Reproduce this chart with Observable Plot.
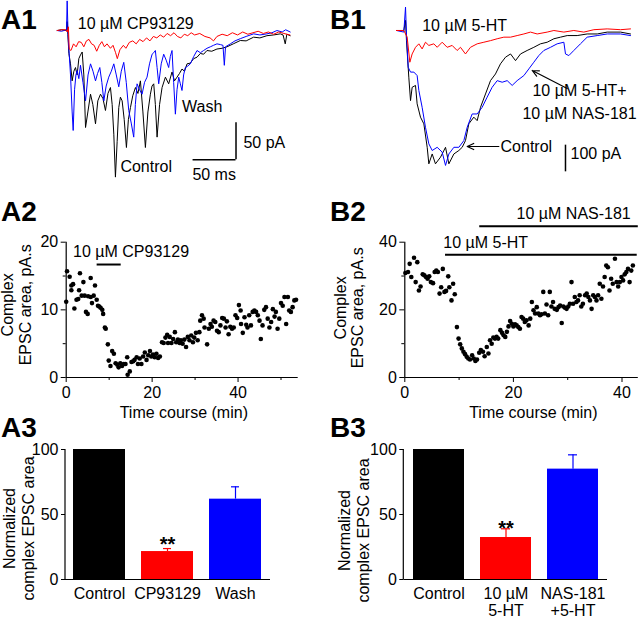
<!DOCTYPE html>
<html><head><meta charset="utf-8">
<script src="https://cdn.jsdelivr.net/npm/d3@7"></script>
<script src="https://cdn.jsdelivr.net/npm/@observablehq/plot@0.6"></script>
<style>
body{margin:0;background:#fff;}
#fig{position:relative;width:640px;height:620px;font-family:"Liberation Sans",Arial,sans-serif;overflow:hidden;background:#fff;}
.panel{position:absolute;}
.panel svg{overflow:visible;background:transparent;}
.lab{position:absolute;font-weight:bold;font-size:28px;line-height:1;color:#000;}
</style></head><body><div id="fig"></div>
<script>
// ---------- A1 traces: [time ms, current pA] ----------
const a1Control = [[0,0],[5,1],[10.9,0],[11.6,12],[12.4,-5],[13.6,-31],[15.5,-45],[17.4,-68],[19.4,-55],[21.3,-50],[23.2,-60],[25.2,-38],[27.1,-33],[29.1,-29],[31,-60],[33,-131],[35.7,-110],[38.8,-86],[41.5,-100],[44.6,-126],[47.3,-95],[50.4,-86],[53.3,-92],[56.2,-108],[59.1,-85],[62,-77],[64,-100],[65.9,-140],[67.8,-198],[69.8,-150],[71.7,-104],[73.6,-90],[75.6,-95],[78,-120],[80.6,-158],[82.9,-120],[85.3,-104],[88,-88],[91.1,-77],[94,-85],[96.9,-68],[99.8,-110],[102.7,-158],[105.6,-110],[108.5,-86],[110.4,-75],[112.4,-72],[114.3,-100],[116.3,-144],[119.2,-100],[122.1,-77],[126,-63],[129.8,-72],[133.7,-56],[136.6,-68],[139.5,-63],[142.4,-58],[145.3,-52],[148.2,-55],[151.2,-45],[155,-44],[158.9,-38],[162.8,-36],[166.7,-31],[170.5,-32],[174.4,-27],[180,-28],[186,-25],[192,-24],[197.7,-22],[205,-18],[213.2,-13.5],[220,-14],[228.7,-9],[236,-10],[244.2,-7],[252,-6],[259.7,-4.5],[263,-6],[265.5,-18],[267.4,-5],[271.3,-7]];
const a1Wash = [[0,0],[5,-1],[10.9,1],[11.6,40],[12.8,-10],[15.5,-60],[17.4,-110],[18.6,-135],[20.2,-80],[21.8,-60],[23.3,-54],[25.2,-65],[27.1,-47],[30,-70],[33,-95],[35.9,-60],[38.8,-45],[41.7,-55],[44.6,-68],[47,-58],[49.6,-50],[52,-70],[54.3,-95],[57,-75],[60,-63],[63,-55],[65.9,-45],[68.8,-60],[71.7,-76],[74.6,-55],[77.5,-43],[80.4,-70],[83.3,-108],[86.2,-125],[89.1,-144],[91,-100],[93,-72],[95.9,-80],[98.8,-86],[101.7,-70],[104.6,-63],[107.5,-45],[110.5,-32],[112.4,-30],[114.3,-27],[116.3,-50],[118.2,-72],[121.1,-45],[124,-32],[126.9,-40],[129.8,-50],[131.7,-35],[133.7,-27],[135.6,-70],[137.6,-113],[139.5,-80],[141.5,-63],[143.4,-72],[145.3,-81],[147.2,-60],[149.2,-50],[152,-48],[155,-45],[159,-35],[162.8,-27],[166.7,-30],[170.5,-27],[174.4,-24],[178.3,-22],[182,-20],[186,-18],[190,-19],[193,-20],[194.6,-47],[196,-22],[201.6,-18],[207,-14],[213.2,-11],[220,-8],[228.7,-4.5],[236,-6],[244.2,-4.5],[250,-3],[255.8,0],[262,-2],[266,1],[271.3,-2]];
const a1CP = [[0,0],[5,1],[10,1],[11.6,-2],[13,5],[14,-25],[16,-27],[19,-18],[22,-22],[25,-15],[28,-16],[31,-22],[34,-14],[37,-12],[40,-18],[43,-20],[46,-28],[49,-20],[52,-15],[55,-22],[58,-18],[62,-24],[65,-20],[68,-30],[70,-38],[73,-26],[77,-20],[80,-24],[84,-16],[88,-14],[92,-18],[96,-12],[100,-15],[104,-10],[108,-14],[112,-8],[116,-10],[120,-6],[124,-9],[128,-4],[132,-7],[136,-3],[140,-8],[144,-10],[148,-5],[152,-7],[156,-3],[160,-6],[166,-4],[172,-8],[178,-10],[182,-14],[186,-8],[192,-5],[198,-7],[204,-3],[210,-6],[216,-2],[222,-5],[228,-3],[234,-1],[240,-4],[246,-2],[252,-5],[258,-2],[264,-4],[271,-6]];
const a1Labels = [{t:24,i:9.5,text:"10 µM CP93129"},{t:145.4,i:-102.6,text:"Wash"},{t:73.6,i:-183.6,text:"Control"},{t:216.8,i:-151.2,text:"50 pA"},{t:157.4,i:-194.4,text:"50 ms"}];
const a1ScaleBar = {t:208.2, i:-174.6, ms:50, pA:50};

// ---------- B1 traces: [time ms, current pA] ----------
const b1Control = [[0,0],[8.5,0],[10.5,38],[11.6,-38],[14.3,-175],[16.3,-263],[18.2,-213],[22.1,-206],[24,-275],[27.9,-325],[31.8,-350],[35.7,-438],[37.6,-500],[41.5,-463],[45.3,-500],[51.2,-475],[57,-438],[60.9,-500],[66.7,-463],[72.5,-450],[76.4,-438],[80.2,-413],[84.1,-350],[89.9,-325],[93.8,-338],[97.7,-288],[103.5,-238],[109.3,-188],[115.1,-163],[120.9,-125],[126.8,-100],[132.6,-88],[138.4,-113],[144.2,-88],[151.9,-75],[159.7,-63],[167.4,-50],[175.2,-44],[183,-31],[190.7,-25],[198.5,-19],[210.1,-19],[221.7,-13],[233.4,-13],[245,-6],[260.5,-6],[272.1,-13]];
const b1Blocker = [[0,0],[8.5,-6],[10.5,88],[11.6,-13],[13.6,-138],[16.3,-156],[20.2,-156],[24,-169],[26,-225],[29.8,-288],[33.7,-363],[37.6,-425],[41.5,-450],[47.3,-438],[53.1,-456],[57,-506],[60.9,-463],[66.7,-438],[72.5,-438],[78.3,-413],[82.2,-363],[88,-313],[93.8,-313],[99.6,-288],[105.4,-250],[111.2,-213],[117.1,-188],[122.9,-194],[128.7,-188],[134.5,-206],[140.3,-188],[148.1,-169],[153.9,-144],[159.7,-119],[165.5,-94],[171.3,-75],[179.1,-63],[186.8,-50],[194.6,-44],[196.5,-88],[200.4,-94],[206.2,-75],[213.9,-50],[221.7,-25],[233.4,-19],[245,-13],[260.5,-13],[272.1,-19]];
const b1HT = [[0,0],[8.5,0],[12.4,-25],[15.5,-119],[18.2,-88],[22.1,-63],[26,-50],[29.8,-69],[33.7,-44],[37.6,-56],[43.4,-50],[47.3,-63],[53.1,-44],[58.9,-63],[64.7,-56],[70.5,-75],[74.4,-63],[80.2,-88],[86,-63],[93.8,-50],[101.6,-44],[109.3,-38],[117.1,-31],[124.8,-25],[132.6,-25],[140.3,-19],[148.1,-13],[155.8,-6],[163.6,-13],[175.2,-6],[183,0],[194.6,-6],[206.2,0],[217.8,-6],[229.5,3],[245,6],[260.5,3],[272.1,6]];
const b1LabelsStart = [{t:29.9,i:18.75,text:"10 µM 5-HT"},{t:121,i:-435,text:"Control"},{t:202.4,i:-461,text:"100 pA"}];
const b1LabelsMid = [{t:212.8,i:-225,text:"10 µM 5-HT+"},{t:212.8,i:-311,text:"10 µM NAS-181"}];
const b1Arrows = [{t1:198.5,i1:-217.5,t2:157.8,i2:-150},{t1:119,i1:-435,t2:82.2,i2:-435}];
const b1ScaleBar = {t:196.5, i:-430, pA:100};

// ---------- A2 time course: [min, pA.s] ----------
const a2Points = [[0,11.2],[0.2,15.7],[0.8,14.9],[1.2,13.6],[1.6,13.8],[1.2,12.9],[1.9,10.2],[2.4,11.5],[2.8,11.6],[3.2,15.4],[3.0,12.9],[3.6,12.1],[4.0,14.1],[4.3,12.1],[4.6,9.7],[5.0,9.4],[5.1,12.0],[5.7,14.7],[5.7,11.9],[6.0,11.0],[6.4,12.1],[6.7,13.6],[7.1,11.5],[7.4,10.6],[7.7,10.5],[8.0,10.3],[8.4,10.0],[8.6,9.4],[9.0,7.4],[9.2,7.2],[9.7,4.9],[9.9,2.5],[10.3,1.7],[10.7,3.9],[11.1,3.5],[11.5,2.1],[11.9,1.9],[12.2,1.5],[12.6,2.1],[13.0,1.7],[13.4,2.0],[13.8,2.0],[14.2,3.0],[14.3,0.4],[14.8,0.9],[15.2,2.3],[15.6,2.4],[15.9,2.6],[16.4,3.0],[16.7,2.0],[17.1,2.8],[17.5,2.0],[17.9,3.1],[18.3,3.7],[18.7,2.6],[19.1,3.3],[19.5,3.9],[19.8,3.1],[20.2,3.4],[20.6,3.0],[21.0,3.5],[21.4,2.9],[21.8,3.1],[22.3,5.2],[22.7,5.1],[23.1,5.9],[23.5,6.3],[23.7,5.1],[24.1,6.0],[24.5,5.1],[24.9,5.7],[25.3,6.7],[25.6,5.2],[26.0,5.6],[26.4,5.1],[26.7,5.5],[27.1,5.0],[27.5,5.6],[27.9,4.5],[28.3,6.0],[28.7,5.5],[29.1,6.2],[29.5,5.2],[29.8,5.9],[30.2,6.6],[30.6,5.5],[31.0,6.7],[31.2,8.4],[31.6,9.2],[32.0,8.7],[32.2,7.4],[32.8,4.9],[33.2,7.2],[33.6,7.9],[33.9,7.5],[34.3,8.4],[34.7,8.2],[35.1,6.9],[35.5,6.7],[35.9,7.7],[36.3,8.8],[36.7,8.7],[37.1,7.4],[37.4,8.3],[37.8,6.4],[38.2,7.5],[38.6,7.2],[39.0,7.4],[39.4,9.2],[39.8,8.8],[40.2,10.7],[40.6,9.9],[40.7,7.9],[41.1,6.6],[41.5,8.9],[41.9,7.8],[42.2,7.4],[42.6,9.2],[43.0,7.7],[43.4,9.7],[43.8,9.9],[44.2,9.7],[44.6,9.2],[45.0,8.4],[45.3,5.7],[45.7,7.7],[46.1,10.0],[46.5,10.4],[46.9,8.7],[47.3,7.4],[47.7,8.2],[48.1,10.1],[48.5,9.0],[48.8,9.7],[49.2,7.2],[49.6,8.7],[50.0,11.0],[50.4,10.6],[50.8,11.9],[51.2,7.9],[51.6,11.9],[51.9,9.9],[52.3,9.7],[52.7,10.4],[53.1,11.4],[53.5,11.5]];
const a2Drug = [{start:7.2,end:12.8,level:16.7,label:"10 µM CP93129",labelT:1.6,labelY:18.5,anchor:"start"}];

// ---------- B2 time course: [min, pA.s] ----------
const b2Points = [[0.1,30.9],[0.6,31.2],[0.9,33.6],[1.2,29.7],[1.7,35.4],[2.0,28.2],[2.3,34.1],[2.6,25.7],[2.9,26.9],[3.3,30.5],[3.6,30.2],[3.9,29.7],[4.2,29.2],[4.5,29.9],[4.8,28.2],[5.2,27.9],[5.5,31.2],[5.8,31.6],[6.1,31.2],[6.4,24.8],[6.7,26.7],[7.0,32.1],[7.3,25.3],[7.6,25.6],[8.0,29.9],[8.2,26.7],[8.6,22.8],[8.9,27.7],[9.2,24.6],[9.6,14.9],[9.9,11.5],[10.2,9.8],[10.5,8.6],[10.8,7.6],[11.1,6.9],[11.4,6.1],[11.7,5.6],[12.0,5.3],[12.4,6.6],[12.7,5.6],[13.0,4.9],[13.3,5.3],[13.7,7.3],[14.0,8.1],[14.4,7.6],[14.7,6.3],[15.1,9.0],[15.4,7.1],[15.7,11.0],[16.0,10.0],[16.3,11.8],[16.6,11.5],[16.9,12.0],[17.2,11.5],[17.6,14.0],[17.9,13.2],[18.2,12.5],[18.5,12.0],[18.8,13.5],[19.1,15.1],[19.4,16.7],[19.7,15.9],[20.0,15.1],[20.3,15.7],[20.6,15.4],[20.9,14.9],[21.2,14.4],[21.5,17.9],[21.8,17.4],[22.1,16.4],[22.4,16.9],[22.8,15.4],[23.1,17.4],[23.4,22.3],[23.7,19.9],[24.0,18.9],[24.3,20.8],[24.6,18.9],[24.9,18.4],[25.2,18.7],[25.5,25.3],[25.8,18.9],[26.1,21.6],[26.4,18.4],[26.7,25.3],[27.0,21.0],[27.3,22.3],[27.6,20.3],[28.0,20.0],[28.3,20.8],[28.6,21.3],[28.9,16.1],[29.2,21.0],[29.5,20.6],[29.8,20.3],[30.1,21.0],[30.4,21.8],[30.7,28.2],[31.0,21.8],[31.3,23.8],[31.6,22.3],[31.9,22.8],[32.2,24.3],[32.5,21.0],[32.8,21.8],[33.2,24.3],[33.5,24.8],[33.8,23.8],[34.1,22.8],[34.4,20.3],[34.7,24.3],[35.0,23.8],[35.3,22.8],[35.6,24.3],[35.9,27.7],[36.2,23.3],[36.5,26.9],[36.8,29.7],[37.1,33.1],[37.4,32.6],[37.7,25.7],[38.0,29.2],[38.3,27.7],[38.7,35.1],[39.0,28.2],[39.3,26.9],[39.6,28.2],[39.9,29.7],[40.2,28.7],[40.5,30.5],[40.8,31.2],[41.1,32.1],[41.4,28.2],[41.7,31.6],[42.0,33.1]];
const b2Drugs = [{start:7.5,end:42.8,level:36.3,label:"10 µM 5-HT",labelT:7.1,labelY:39.7,anchor:"start"},{start:13.8,end:43,level:44.7,label:"10 µM NAS-181",labelT:31.1,labelY:48.5,anchor:"middle"}];

// ---------- A3 / B3 normalized bars ----------
const a3Cats = ["Control","CP93129","Wash"];
const a3Means = [100, 21.5, 61.8];
const a3Errs = [0, 2.3, 9.5];
const a3Sig = [{cat:"CP93129", y:27, text:"**"}];
const b3Cats = ["Control","10 µM\n5-HT","NAS-181\n+5-HT"];
const b3Means = [100, 32.3, 84.9];
const b3Errs = [0, 6.7, 11.0];
const b3Sig = [{cat:"10 µM\n5-HT", y:39.2, text:"**"}];
const barColors = ["#000000","#ff0000","#0000ff"];

const FONT = "Liberation Sans, Arial, sans-serif";
const fig = document.getElementById("fig");
function place(node, left, top){ const d=document.createElement("div"); d.className="panel"; d.style.left=left+"px"; d.style.top=top+"px"; d.appendChild(node); fig.appendChild(d); }
function label(txt, left, top){ const d=document.createElement("div"); d.className="lab"; d.textContent=txt; d.style.left=left+"px"; d.style.top=top+"px"; fig.appendChild(d); }
const baseStyle = {fontFamily: FONT, fontSize: "16px", background: "transparent", overflow: "visible", color: "black"};
const P = d => d[0], Q = d => d[1];
// left axis line drawn along the frame's left edge
const leftAxisLine = (index, scales, values, dims) => {
  const g = d3.create("svg:g");
  g.append("line").attr("x1", dims.marginLeft).attr("x2", dims.marginLeft)
    .attr("y1", dims.marginTop).attr("y2", dims.height - dims.marginBottom)
    .attr("stroke", "black").attr("stroke-width", 1.2);
  return g.node();
};

// A1
place(Plot.plot({
  width:320, height:200, marginLeft:56.7, marginRight:30.3, marginTop:0.4, marginBottom:21.9,
  x:{domain:[0,271.3], axis:null}, y:{domain:[-200,40], axis:null}, style: baseStyle,
  marks:[
    Plot.line(a1Control,{x:P,y:Q,stroke:"black",strokeWidth:1}),
    Plot.line(a1Wash,{x:P,y:Q,stroke:"#0000ff",strokeWidth:1}),
    Plot.line(a1CP,{x:P,y:Q,stroke:"#ff0000",strokeWidth:1}),
    Plot.ruleX([a1ScaleBar],{x:"t",y1:"i",y2:d=>d.i+d.pA,strokeWidth:1.5}),
    Plot.ruleY([a1ScaleBar],{y:"i",x1:d=>d.t-d.ms,x2:"t",strokeWidth:1.5}),
    Plot.text(a1Labels,{x:"t",y:"i",text:"text",textAnchor:"start",lineAnchor:"middle",fontSize:16})
  ]
}), 0, 0);

// B1
place(Plot.plot({
  width:320, height:200, marginLeft:76, marginRight:10, marginTop:3.33, marginBottom:30,
  x:{domain:[0,272.1], axis:null}, y:{domain:[-525,100], axis:null}, style: baseStyle,
  marks:[
    Plot.line(b1Control,{x:P,y:Q,stroke:"black",strokeWidth:1}),
    Plot.line(b1Blocker,{x:P,y:Q,stroke:"#0000ff",strokeWidth:1}),
    Plot.line(b1HT,{x:P,y:Q,stroke:"#ff0000",strokeWidth:1}),
    Plot.ruleX([b1ScaleBar],{x:"t",y1:"i",y2:d=>d.i-d.pA,strokeWidth:1.5}),
    Plot.arrow(b1Arrows,{x1:"t1",y1:"i1",x2:"t2",y2:"i2",strokeWidth:1.2,headLength:9,headAngle:50}),
    Plot.text(b1LabelsStart,{x:"t",y:"i",text:"text",textAnchor:"start",lineAnchor:"middle",fontSize:16}),
    Plot.text(b1LabelsMid,{x:"t",y:"i",text:"text",textAnchor:"middle",lineAnchor:"middle",fontSize:16})
  ]
}), 320, 0);

function timeCourse(points, drugs, yMax, yTicks, yMinor, xMax, xTicks, xMinor, ml, mr, yLabelDx, yLabelDy, xLabelDx){
  return Plot.plot({
    width:320, height:190, marginLeft:ml, marginRight:mr, marginTop:11.7, marginBottom:43,
    x:{domain:[0,xMax]}, y:{domain:[0,yMax]}, style: baseStyle,
    marks:[
      Plot.axisX({ticks:xTicks, tickSize:5, tickPadding:4, label:null, fontSize:16}),
      Plot.axisX({ticks:xMinor, tickSize:3, tickFormat:()=>"", label:null}),
      Plot.axisY({ticks:yTicks, tickSize:5, tickPadding:3, label:null, fontSize:16}),
      Plot.axisY({ticks:yMinor, tickSize:3, tickFormat:()=>"", label:null}),
      Plot.ruleY([0],{strokeWidth:1.2}), Plot.ruleX([0],{strokeWidth:1.2}),
      Plot.dot(points,{x:P,y:Q,r:2.3,fill:"black",stroke:null}),
      Plot.ruleY(drugs,{x1:"start",x2:"end",y:"level",strokeWidth:2}),
      Plot.text(drugs.filter(d=>d.anchor==="start"),{x:"labelT",y:"labelY",text:"label",textAnchor:"start",lineAnchor:"middle",fontSize:16}),
      Plot.text(drugs.filter(d=>d.anchor==="middle"),{x:"labelT",y:"labelY",text:"label",textAnchor:"middle",lineAnchor:"middle",fontSize:16}),
      Plot.text(["Complex\nEPSC area, pA.s"],{frameAnchor:"left",rotate:-90,dx:yLabelDx,dy:yLabelDy,textAnchor:"middle",lineAnchor:"middle",lineHeight:1.1,fontSize:16}),
      Plot.text(["Time course (min)"],{frameAnchor:"bottom",dy:35,dx:xLabelDx,textAnchor:"middle",lineAnchor:"middle",fontSize:16})
    ]
  });
}
place(timeCourse(a2Points, a2Drug, 20, [0,10,20], [5,15], 54, [0,20,40], [10,30,50], 65.7, 22.3, -49.7, -5, 1.6), 0, 230);
place(timeCourse(b2Points, b2Drugs, 40, [0,20,40], [10,30], 43, [0,20,40], [10,30], 84.3, 2.2, -55.8, -2, 11.8), 320, 230);

function bars(cats, means, errs, sig, ml, mr, yLabelDx, yLabelDy){
  const rows = cats.map((c,k)=>({cat:c, mean:means[k], err:errs[k], color:barColors[k]}));
  const errRows = rows.filter(r=>r.err>0);
  return Plot.plot({
    width:320, height:190, marginLeft:ml, marginRight:mr, marginTop:19, marginBottom:41,
    x:{type:"band", domain:cats, paddingInner:0.235, paddingOuter:0.118},
    y:{domain:[0,100]}, style: baseStyle,
    marks:[
      Plot.axisX({tickSize:0, tickPadding:8, label:null, fontSize:16, lineHeight:1.05}),
      Plot.axisY({ticks:[0,50,100], tickSize:4, tickPadding:3, label:null, fontSize:16}),
      Plot.barY(rows,{x:"cat", y:"mean", fill:"color"}),
      Plot.ruleX(errRows,{x:"cat", y1:"mean", y2:d=>d.mean+d.err, stroke:"color", strokeWidth:1.2}),
      Plot.tickY(errRows,{x:"cat", y:d=>d.mean+d.err, stroke:"color", strokeWidth:1.2, insetLeft:30, insetRight:30}),
      Plot.ruleY([0],{strokeWidth:1.2}),
      leftAxisLine,
      Plot.text(sig,{x:"cat", y:"y", text:"text", fontSize:20, fontWeight:"bold", lineAnchor:"middle"}),
      Plot.text(["Normalized\ncomplex EPSC area"],{frameAnchor:"left",rotate:-90,dx:yLabelDx,dy:yLabelDy,textAnchor:"middle",lineAnchor:"middle",lineHeight:1.2,fontSize:16})
    ]
  });
}
place(bars(a3Cats, a3Means, a3Errs, a3Sig, 65, 50, -47.5, 14), 0, 430);
place(bars(b3Cats, b3Means, b3Errs, b3Sig, 83.3, 33, -50.8, 16), 320, 430);

label("A1", 1, 6.3); label("B1", 330, 6.3);
label("A2", 1, 198); label("B2", 330, 198);
label("A3", 1, 414); label("B3", 330, 414);
</script></body></html>
